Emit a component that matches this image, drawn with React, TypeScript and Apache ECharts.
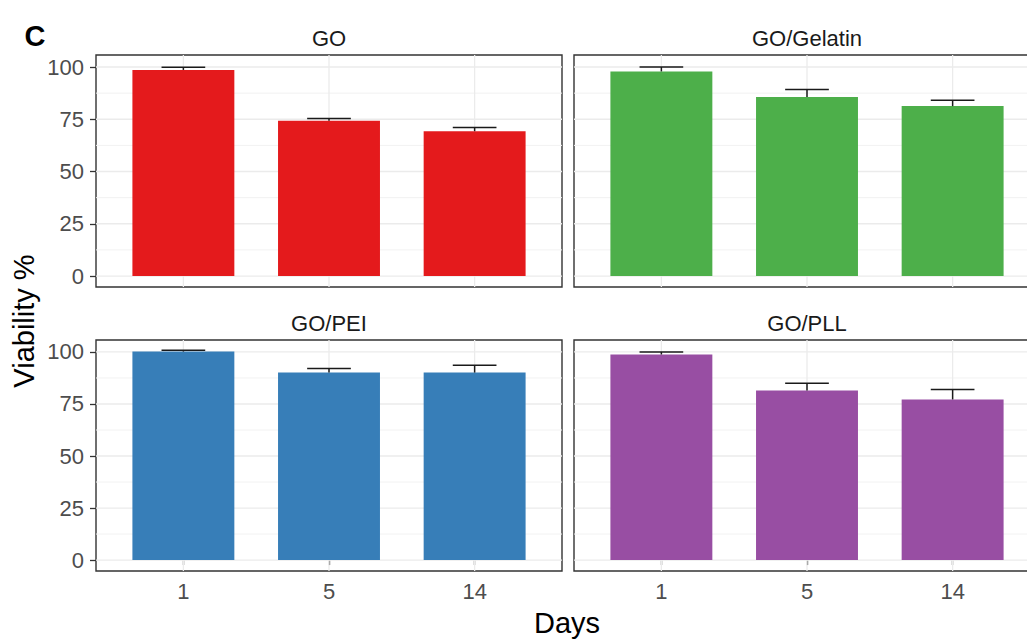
import React, { useEffect, useRef } from "react";
import * as echarts from "echarts";

const days = ["1", "5", "14"];
const panelNames = ["GO", "GO/Gelatin", "GO/PEI", "GO/PLL"];
const barColors = ["#E41A1C", "#4DAF4A", "#377EB8", "#984EA3"];

const goMean = [98.6, 74.3, 69.3];
const goSd = [1.3, 1.1, 1.8];
const gelatinMean = [97.9, 85.6, 81.3];
const gelatinSd = [2.1, 3.6, 2.8];
const peiMean = [100.2, 90.1, 90.1];
const peiSd = [0.6, 1.9, 3.5];
const pllMean = [98.8, 81.5, 77.2];
const pllSd = [1.2, 3.5, 4.8];

const yTicks = [0, 25, 50, 75, 100];
const yMinor = [12.5, 37.5, 62.5, 87.5];
const xTicks = [1, 2, 3];

const FONT = "Liberation Sans, Arial, sans-serif";

export default function App() {
  const ref = useRef<HTMLDivElement>(null);
  useEffect(() => {
    if (!ref.current) return;
    const chart = echarts.init(ref.current, null, { renderer: "svg" });
    const means = [goMean, gelatinMean, peiMean, pllMean];
    const sds = [goSd, gelatinSd, peiSd, pllSd];
    const grids = [
      { left: 96, top: 55, width: 466, height: 232 },
      { left: 574, top: 55, width: 466, height: 232 },
      { left: 96, top: 340, width: 466, height: 231 },
      { left: 574, top: 340, width: 466, height: 231 },
    ];
    const series: any[] = [];
    const xAxes: any[] = [];
    const yAxes: any[] = [];
    grids.forEach((g, p) => {
      const isLeft = p % 2 === 0;
      const isBottom = p >= 2;
      xAxes.push({
        gridIndex: p,
        type: "value",
        min: 0.4,
        max: 3.6,
        axisLine: { show: false },
        splitLine: { show: false },
        axisTick: {
          show: isBottom,
          customValues: xTicks,
          length: 5,
          lineStyle: { color: "#333333", width: 1.3 },
        },
        axisLabel: {
          show: isBottom,
          customValues: xTicks,
          formatter: (v: number) => days[Math.round(v) - 1] ?? "",
          color: "#4d4d4d",
          fontSize: 22,
          fontFamily: FONT,
          margin: 9,
        },
      });
      yAxes.push({
        gridIndex: p,
        type: "value",
        min: -5.25,
        max: 105.75,
        axisLine: { show: false },
        splitLine: { show: false },
        axisTick: {
          show: isLeft,
          customValues: yTicks,
          length: 6,
          lineStyle: { color: "#333333", width: 1.3 },
        },
        axisLabel: {
          show: isLeft,
          customValues: yTicks,
          color: "#4d4d4d",
          fontSize: 22,
          fontFamily: FONT,
          margin: 12,
        },
      });
      const gridData: number[][] = [];
      yTicks.forEach((v) => gridData.push([1, v, 0]));
      yMinor.forEach((v) => gridData.push([1, v, 1]));
      xTicks.forEach((x) => gridData.push([x, 0, 2]));
      series.push({
        type: "custom",
        xAxisIndex: p,
        yAxisIndex: p,
        z: 1,
        silent: true,
        data: gridData,
        renderItem: (params: any, api: any) => {
          const cs = params.coordSys;
          const kind = api.value(2);
          if (kind === 2) {
            const x = api.coord([api.value(0), 0])[0];
            return {
              type: "line",
              shape: { x1: x, y1: cs.y, x2: x, y2: cs.y + cs.height },
              style: { stroke: "#ebebeb", lineWidth: 1.3 },
            };
          }
          const y = api.coord([1, api.value(1)])[1];
          return {
            type: "line",
            shape: { x1: cs.x, y1: y, x2: cs.x + cs.width, y2: y },
            style: { stroke: kind === 0 ? "#ebebeb" : "#f2f2f2", lineWidth: kind === 0 ? 1.3 : 1 },
          };
        },
      });
      const data = days.map((d, i) => [i + 1, means[p][i], sds[p][i]]);
      series.push({
        type: "custom",
        name: panelNames[p],
        xAxisIndex: p,
        yAxisIndex: p,
        z: 2,
        data,
        renderItem: (params: any, api: any) => {
          const x = api.value(0);
          const v = api.value(1);
          const p0 = api.coord([x - 0.35, 0]);
          const p1 = api.coord([x + 0.35, v]);
          return {
            type: "rect",
            shape: { x: p0[0], y: p1[1], width: p1[0] - p0[0], height: p0[1] - p1[1] },
            style: { fill: barColors[p] },
          };
        },
      });
      series.push({
        type: "custom",
        xAxisIndex: p,
        yAxisIndex: p,
        z: 3,
        data,
        renderItem: (params: any, api: any) => {
          const x = api.value(0);
          const v = api.value(1);
          const sd = api.value(2);
          const a = api.coord([x, v]);
          const b = api.coord([x, v + sd]);
          const c1 = api.coord([x - 0.15, v + sd]);
          const c2 = api.coord([x + 0.15, v + sd]);
          return {
            type: "group",
            children: [
              {
                type: "line",
                shape: { x1: a[0], y1: a[1], x2: b[0], y2: b[1] },
                style: { stroke: "#1a1a1a", lineWidth: 1.5 },
              },
              {
                type: "line",
                shape: { x1: c1[0], y1: c1[1], x2: c2[0], y2: c2[1] },
                style: { stroke: "#1a1a1a", lineWidth: 1.5 },
              },
            ],
          };
        },
      });
    });

    const stripText = grids.map((g, p) => ({
      type: "text",
      x: g.left + g.width / 2,
      y: g.top - 17,
      style: {
        text: panelNames[p],
        fill: "#1a1a1a",
        font: `22px ${FONT}`,
        align: "center",
        verticalAlign: "middle",
      },
    }));

    chart.setOption({
      animation: false,
      backgroundColor: "#ffffff",
      grid: grids.map((g) => ({
        ...g,
        show: true,
        backgroundColor: "#ffffff",
        borderColor: "#333333",
        borderWidth: 1.4,
        containLabel: false,
        outerBoundsMode: "none",
      })),
      xAxis: xAxes,
      yAxis: yAxes,
      series,
      graphic: [
        ...stripText,
        {
          type: "text",
          x: 35,
          y: 36,
          style: {
            text: "C",
            fill: "#000000",
            font: `bold 29px ${FONT}`,
            align: "center",
            verticalAlign: "middle",
          },
        },
        {
          type: "text",
          x: 567,
          y: 623,
          style: {
            text: "Days",
            fill: "#000000",
            font: `29px ${FONT}`,
            align: "center",
            verticalAlign: "middle",
          },
        },
        {
          type: "text",
          x: 24,
          y: 321,
          rotation: Math.PI / 2,
          style: {
            text: "Viability %",
            fill: "#000000",
            font: `29px ${FONT}`,
            align: "center",
            verticalAlign: "middle",
          },
        },
      ],
    });
    return () => chart.dispose();
  }, []);
  return (
    <div
      ref={ref}
      style={{ position: "absolute", left: 0, top: 0, width: 1027, height: 639 }}
    />
  );
}
